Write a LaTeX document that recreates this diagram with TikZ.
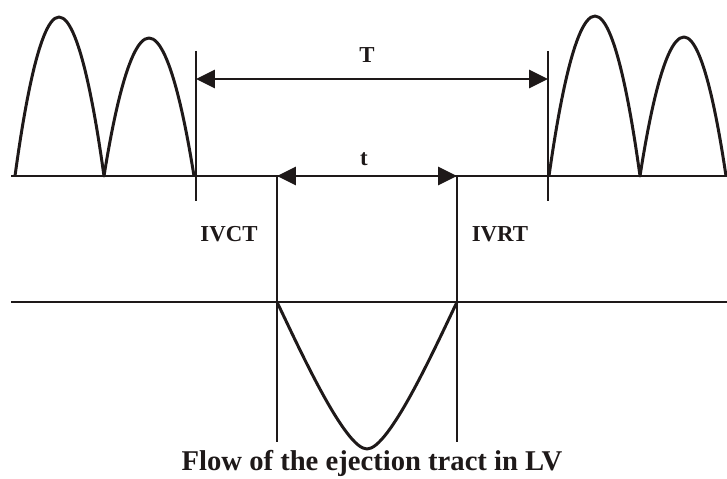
\documentclass[tikz,border=0pt]{standalone}
\usepackage{fontspec}
\setmainfont{Liberation Serif}
\usetikzlibrary{arrows.meta}
\definecolor{ink}{RGB}{30,25,25}
\tikzset{
  wave/.style={draw=ink,line width=1.7pt,line join=round},
  base/.style={draw=ink,line width=1.5pt},
  marker/.style={draw=ink,line width=1.5pt},
  span/.style={{Triangle[length=3.8mm,width=3.6mm]}-{Triangle[length=3.8mm,width=3.6mm]},draw=ink,fill=ink,line width=1.7pt},
  lbl/.style={font=\fontsize{13}{15}\selectfont\bfseries,text=ink,inner sep=1pt},
  caption/.style={font=\fontsize{16.3}{19}\selectfont\bfseries,text=ink,inner sep=1pt},
}

\begin{document}
\begin{tikzpicture}[x=0.02cm,y=-0.02cm]
    \useasboundingbox (0,0) rectangle (727,479);
    % baselines
    \draw[base] (11,176) -- (727,176);
    \draw[base] (11,302) -- (727,302);
    % aortic flow humps
    \draw[wave] (15,176) parabola bend (59,17) (104,176)
      parabola bend (149,38) (194,176);
    \draw[wave] (549,176) parabola bend (595,16) (640,176)
      parabola bend (684,37) (726,176);
    % markers
    \coordinate (s1) at (196,51);  \coordinate (s2) at (196,201);
    \coordinate (e1) at (548,51);  \coordinate (e2) at (548,201);
    \coordinate (c1) at (277,176); \coordinate (c2) at (277,442);
    \coordinate (r1) at (457,176); \coordinate (r2) at (457,442);
    \draw[marker] (s1) -- (s2);
    \draw[marker] (e1) -- (e2);
    \draw[marker] (c1) -- (c2);
    \draw[marker] (r1) -- (r2);
    % intervals
    \draw[span] (s1 |- 0,79) -- (e1 |- 0,79);
    \draw[span] (c1) -- (r1);
    \node[lbl] (T) at (367,55) {T};
    \node[lbl] (t) at (364,159) {t};
    \node[lbl] (ivct) at (229,234) {IVCT};
    \node[lbl] (ivrt) at (500,234) {IVRT};
    % ejection flow
    \draw[wave] (277,302) .. controls (300,350) and (345,449) .. (367,449)
      .. controls (389,449) and (434,350) .. (457,302);
    \node[caption] (cap) at (372,463) {Flow of the ejection tract in LV};
\end{tikzpicture}
\end{document}
